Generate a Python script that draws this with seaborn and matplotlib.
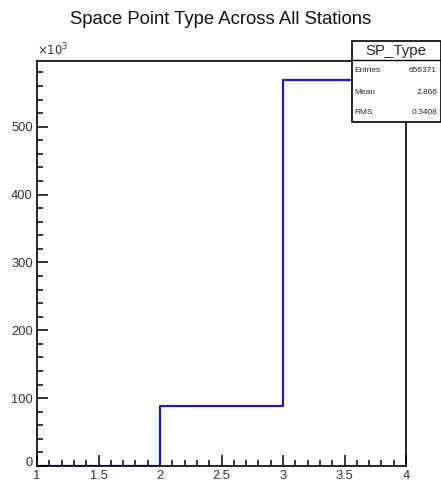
import numpy as np
import pandas as pd
import seaborn as sns
import matplotlib
matplotlib.use("Agg")
import matplotlib.pyplot as plt
from matplotlib.ticker import MultipleLocator, FuncFormatter
from matplotlib.patches import Rectangle
from matplotlib.lines import Line2D
from matplotlib.transforms import ScaledTranslation

# Data
sp_type = [1, 2, 3]
counts = [0, 88033, 568338]
bin_edges = [1, 2, 3, 4]
title = "Space Point Type Across All Stations"
hist_name = "SP_Type"
entries_label = "656371"

sns.set_theme(style="white")
plt.rcParams['font.family'] = ['Liberation Sans', 'DejaVu Sans']

W, H = 441, 484
fig = plt.figure(figsize=(W / 100, H / 100), dpi=100)
ax = fig.add_axes([37 / W, (H - 466) / H, (406 - 37) / W, (466 - 61) / H])

df = pd.DataFrame({"type": sp_type, "n": counts})
sns.histplot(data=df, x="type", weights="n", bins=bin_edges, element="step",
             fill=False, color="#1c1cb4", linewidth=1.6, ax=ax)
for ln in ax.lines + ax.patches + list(ax.collections):
    ln.set_zorder(1)

ax.set_xlim(1, 4)
ax.set_ylim(0, 1.05 * max(counts))
ax.set_xlabel("")
ax.set_ylabel("")
for s in ax.spines.values():
    s.set_color("black")
    s.set_linewidth(1.2)
    s.set_zorder(3)
ax.xaxis.set_major_locator(MultipleLocator(0.5))
ax.xaxis.set_minor_locator(MultipleLocator(0.1))
ax.yaxis.set_major_locator(MultipleLocator(100000))
ax.yaxis.set_minor_locator(MultipleLocator(20000))
ax.xaxis.set_major_formatter(FuncFormatter(lambda v, p: f"{v:g}"))
ax.yaxis.set_major_formatter(FuncFormatter(lambda v, p: f"{v/1000:g}"))
ax.tick_params(axis="both", which="both", direction="in", top=False, right=False,
               bottom=True, left=True,
               colors="black", labelcolor="#333333", labelsize=9.3, width=1.1)
ax.tick_params(axis="x", which="major", length=8, pad=3)
ax.tick_params(axis="x", which="minor", length=4.3)
ax.tick_params(axis="y", which="major", length=8, pad=3)
ax.tick_params(axis="y", which="minor", length=4.3)

# nudge the "0" y label up and the "1" x label so corner labels don't collide
fig.canvas.draw()
for lbl in ax.get_yticklabels():
    if lbl.get_text() == "0":
        lbl.set_transform(lbl.get_transform() + ScaledTranslation(0, 4 / 100, fig.dpi_scale_trans))

fig.text(37 / W, 1 - 50 / H, r"$\times10^{3}$", fontsize=8.5, ha="left", va="center",
         color="#333333")
fig.text(0.5, 1 - 19 / H, title, fontsize=13.3, ha="center", va="center", color="#111111")

# Stats box (figure pixel coordinates)
def fx(px):
    return px / W

def fy(py):
    return 1 - py / H

box = Rectangle((fx(352), fy(122)), fx(441) - fx(352), fy(41) - fy(122),
                transform=fig.transFigure, facecolor="white", edgecolor="black",
                linewidth=1.2, zorder=10)
fig.add_artist(box)
fig.add_artist(Line2D([fx(352), fx(441)], [fy(60), fy(60)], transform=fig.transFigure,
                      color="black", linewidth=1.0, zorder=11))
fig.text(fx(396), fy(50.5), hist_name, fontsize=10.8, ha="center", va="center", zorder=12)

vals = np.array(sp_type, dtype=float)
w = np.array(counts, dtype=float)
mean = np.sum(vals * w) / np.sum(w)
rms = np.sqrt(np.sum(w * (vals - mean) ** 2) / np.sum(w))
rows = [("Entries", entries_label), ("Mean", f"{mean:.3f}"), ("RMS", f"{rms:.4f}")]
ys = [70, 92, 113]
for (lab, val), y in zip(rows, ys):
    fig.text(fx(354), fy(y), lab, fontsize=6, ha="left", va="center", zorder=12)
    fig.text(fx(437), fy(y), val, fontsize=6, ha="right", va="center", zorder=12)

fig.savefig("out.png", dpi=100)
